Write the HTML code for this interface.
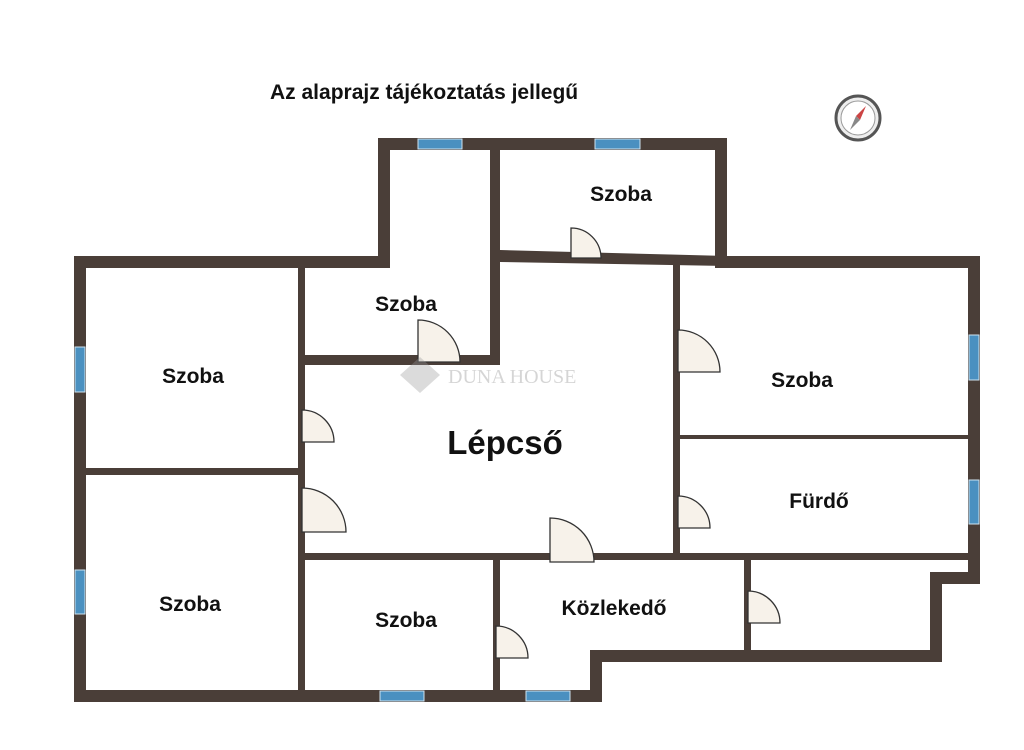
<!DOCTYPE html>
<html><head><meta charset="utf-8"><style>
body{margin:0;background:#fff}
svg{display:block}
text{font-family:"Liberation Sans",sans-serif;font-weight:bold;fill:#111}
</style></head><body>
<svg width="1024" height="750" viewBox="0 0 1024 750" xmlns="http://www.w3.org/2000/svg">
<rect width="1024" height="750" fill="#fff"/>
<g fill="#4a3e38">
<rect x="378" y="138" width="349" height="12"/>
<rect x="378" y="138" width="12" height="130"/>
<rect x="715" y="138" width="12" height="130"/>
<rect x="74" y="256" width="316" height="12"/>
<rect x="715" y="256" width="265" height="12"/>
<rect x="74" y="256" width="12" height="446"/>
<rect x="968" y="256" width="12" height="328"/>
<rect x="930" y="572" width="50" height="12"/>
<rect x="930" y="572" width="12" height="90"/>
<rect x="590" y="650" width="352" height="12"/>
<rect x="590" y="650" width="12" height="52"/>
<rect x="74" y="690" width="528" height="12"/>
<rect x="298" y="268" width="7" height="422"/>
<rect x="86" y="468" width="214" height="7"/>
<rect x="490" y="150" width="10" height="215"/>
<rect x="298" y="355" width="202" height="10"/>
<polygon points="500,250 727,256 727,266 500,262"/>
<rect x="673" y="262" width="7" height="296"/>
<rect x="680" y="435" width="288" height="4"/>
<rect x="298" y="553" width="670" height="7"/>
<rect x="493" y="560" width="7" height="130"/>
<rect x="744" y="560" width="7" height="90"/>
</g>
<g fill="#4a90c0" stroke="#cfe3ef" stroke-width="1">
<rect x="418" y="139" width="44" height="10"/>
<rect x="595" y="139" width="45" height="10"/>
<rect x="75" y="347" width="10" height="45"/>
<rect x="75" y="570" width="10" height="44"/>
<rect x="969" y="335" width="10" height="45"/>
<rect x="969" y="480" width="10" height="44"/>
<rect x="380" y="691" width="44" height="10"/>
<rect x="526" y="691" width="44" height="10"/>
</g>
<g fill="#f7f2ea" stroke="#333" stroke-width="1.3">
<path d="M571,258 V228 A30,30 0 0 1 601,258 Z"/>
<path d="M418,362 V320 A42,42 0 0 1 460,362 Z"/>
<path d="M302,442 V410 A32,32 0 0 1 334,442 Z"/>
<path d="M302,532 V488 A44,44 0 0 1 346,532 Z"/>
<path d="M550,562 V518 A44,44 0 0 1 594,562 Z"/>
<path d="M678,372 V330 A42,42 0 0 1 720,372 Z"/>
<path d="M678,528 V496 A32,32 0 0 1 710,528 Z"/>
<path d="M496,658 V626 A32,32 0 0 1 528,658 Z"/>
<path d="M748,623 V591 A32,32 0 0 1 780,623 Z"/>
</g>
<text x="270" y="99" font-size="21">Az alaprajz tájékoztatás jellegű</text>
<text x="621" y="201" font-size="21" text-anchor="middle">Szoba</text>
<text x="406" y="311" font-size="21" text-anchor="middle">Szoba</text>
<text x="193" y="383" font-size="21" text-anchor="middle">Szoba</text>
<text x="802" y="387" font-size="21" text-anchor="middle">Szoba</text>
<text x="505" y="454" font-size="33" text-anchor="middle">Lépcső</text>
<text x="819" y="508" font-size="21" text-anchor="middle">Fürdő</text>
<text x="190" y="611" font-size="21" text-anchor="middle">Szoba</text>
<text x="406" y="627" font-size="21" text-anchor="middle">Szoba</text>
<text x="614" y="615" font-size="21" text-anchor="middle">Közlekedő</text>
<g opacity="0.35">
<polygon points="420,357 440,375 420,393 400,375" fill="#999"/>
<text x="448" y="383" font-size="20" style="font-family:'Liberation Serif',serif;font-weight:normal;fill:#888">DUNA HOUSE</text>
</g>
<g>
<circle cx="858" cy="118" r="22" fill="#eee" stroke="#555" stroke-width="3"/>
<circle cx="858" cy="118" r="17" fill="#fff" stroke="#999" stroke-width="1"/>
<polygon points="866,106 860,120 856,116" fill="#c44"/>
<polygon points="850,130 856,116 860,120" fill="#888"/>
</g>
</svg>
</body></html>
